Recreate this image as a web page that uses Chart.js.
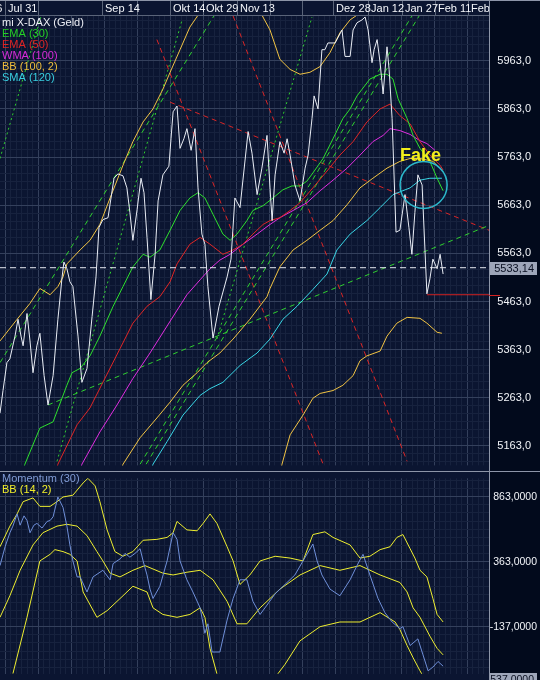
<!DOCTYPE html>
<html>
<head>
<meta charset="utf-8">
<script src="https://cdn.jsdelivr.net/npm/chart.js@4.4.0/dist/chart.umd.min.js"></script>
<style>
  html, body { margin: 0; padding: 0; background: #020a1c; }
  #wrap { position: relative; width: 540px; height: 680px; overflow: hidden; }
  #wrap canvas { position: absolute; left: 0; }
</style>
</head>
<body>
<div id="wrap">
  <canvas id="mainChart" width="540" height="472" style="top:0"></canvas>
  <canvas id="momChart" width="540" height="208" style="top:472px"></canvas>
</div>
<script>
// time axis in trading days
const xMax = 163;
const headerDays = [1.67, 12.67, 34, 45.67, 56.67, 67.67, 79, 90, 100.67, 111, 122.67, 134, 145, 156];
const headerLabels = [[-10, "Jul 16"], [1.67, "Jul 31"], [34, "Sep 14"], [56.67, "Okt 14"], [67.67, "Okt 29"],
  [79, "Nov 13"], [111, "Dez 28"], [122.67, "Jan 12"], [134, "Jan 27"], [145, "Feb 11"], [156, "Feb 26"]];

const lastPrice = 5533.14;
const supportLevel = 5477;

// mi X-DAX (Geld)
const price = [[0,5231],[1,5278],[2.3,5336],[3.3,5344],[5,5391],[6,5426],[7,5391],[7.7,5371],[9,5438],[10,5381],
  [11,5315],[12.3,5371],[13.3,5397],[14.7,5309],[16,5248],[17.7,5309],[19.3,5426],[20.7,5514],[21.3,5545],[22.3,5531],
  [23.3,5504],[24.3,5494],[26,5391],[27.3,5295],[29,5324],[30.7,5432],[32,5514],[33,5617],[34.3,5633],[36,5637],
  [37,5678],[38,5719],[39.3,5728],[41,5724],[42.3,5699],[43.3,5648],[44.3,5590],[45.7,5654],[47,5719],[48,5689],
  [49,5596],[50.3,5467],[51.7,5561],[52.7,5672],[54.3,5726],[56.3,5744],[57,5801],[57.7,5857],[59,5869],[60,5781],
  [61.3,5801],[62.3,5822],[63.7,5777],[65,5822],[66,5699],[67.3,5603],[68.3,5582],[69.3,5494],[71,5387],[73,5453],
  [75.7,5514],[77,5551],[78.3,5678],[80,5658],[82.7,5816],[84,5771],[85.7,5685],[87.3,5740],[89,5808],[90,5699],
  [90.7,5631],[91.7,5726],[93.3,5795],[94.7,5771],[95.7,5801],[96.7,5767],[98.3,5705],[100,5672],[101.7,5740],[102.7,5767],
  [104,5843],[104.7,5890],[106,5863],[107.3,5986],[108.3,5986],[109.3,6000],[111.7,6000],[114,6027],[115,5972],[116.7,5972],
  [117.7,6027],[119,6042],[120.7,6048],[121.7,6054],[122.7,6027],[124,5959],[124.7,5986],[125.7,6007],[126.7,5959],[127.7,5894],
  [129,5992],[129.7,5945],[130.7,5843],[132,5607],[133.3,5611],[135,5685],[136.3,5617],[137.3,5561],[138.3,5648],[139.3,5726],
  [140.7,5705],[142.3,5479],[143.3,5510],[144.3,5551],[145.7,5531],[146.7,5561],[147.7,5520]];

const ema30 = [[5,5060],[8.3,5125],[13.3,5200],[17.7,5213],[22.3,5289],[24,5315],[26.7,5324],[30,5350],[33.3,5391],[37.7,5453],
  [41,5494],[44.3,5535],[47.7,5561],[50,5555],[53.3,5570],[56.7,5611],[60,5652],[63.3,5678],[66,5689],[68.3,5678],
  [71,5644],[74.3,5603],[76.7,5590],[79,5603],[82.3,5631],[84.3,5652],[87.7,5662],[91,5678],[94.3,5695],[97.3,5703],
  [100,5703],[102.3,5713],[104.3,5730],[107.7,5760],[111,5801],[114.3,5843],[116.7,5863],[119,5890],[120.7,5904],[123.3,5925],
  [126.7,5935],[129,5935],[131,5925],[132.7,5884],[135.7,5843],[137.7,5808],[140,5781],[143.3,5754],[145.7,5719],[147.7,5693]];

const ema50 = [[17,5060],[19.3,5125],[25.7,5207],[30,5242],[34.3,5295],[40,5365],[44.3,5418],[49,5453],[53.3,5473],[56.7,5504],
  [59,5541],[63.3,5582],[66.7,5596],[70,5582],[74.3,5561],[77.7,5570],[81,5582],[84.3,5603],[87.7,5623],[90,5631],
  [93.3,5637],[96.7,5652],[100,5668],[104.3,5699],[109,5734],[113.3,5767],[117.7,5795],[122.3,5836],[126.7,5863],[130,5873],
  [133.3,5849],[136.7,5832],[140,5795],[143.3,5767],[146.7,5746],[147.7,5736]];

const wma100 = [[24,5060],[27.3,5125],[33.3,5192],[39,5248],[44.3,5303],[50,5356],[55.7,5412],[62.3,5477],[66.7,5508],[70,5531],
  [73.3,5549],[76.7,5561],[81,5582],[85.7,5603],[90,5623],[93.3,5637],[97.7,5652],[102.3,5668],[106.7,5693],[111,5715],
  [115.7,5740],[120,5767],[124.3,5795],[127.7,5808],[130,5822],[133.3,5818],[136.7,5810],[140,5797],[142.3,5791],[145,5777]];

const bbUpper = [[0,5381],[5.7,5426],[10,5459],[13.3,5490],[16.7,5477],[19.3,5494],[21,5514],[22.3,5541],[26.7,5570],[30,5590],
  [33.3,5623],[36.7,5678],[41,5746],[44.3,5795],[47.7,5836],[51,5863],[54.3,5904],[56.7,5939],[60,5986],[63.3,6033],
  [66.7,6064],[73.3,6099],[80,6113],[85,6089],[87.3,6058],[90,6027],[93.3,5966],[96.7,5945],[100,5935],[103.3,5939],
  [106.7,5951],[110,5980],[113.3,6021],[116.7,6048],[120,6062],[123.3,6089],[128.3,6109],[136.7,6119],[147.7,6130]];

const bbMiddle = [[38,5060],[41,5125],[46.7,5180],[52.3,5221],[56.7,5254],[61,5289],[65.7,5315],[69,5336],[73.3,5356],[77.7,5385],
  [83.3,5426],[89,5473],[90,5490],[93.3,5535],[97.7,5570],[102.3,5590],[106.7,5611],[111,5631],[115.7,5664],[120,5699],
  [124.3,5719],[129,5740],[133.3,5754],[136.7,5760],[140,5760],[144.3,5754],[147.3,5736]];

const bbLower = [[92,5060],[94,5125],[96.7,5186],[101,5227],[104.3,5262],[106.7,5272],[111,5278],[114.3,5289],[117.7,5309],[120,5340],
  [122.3,5350],[126.7,5360],[129,5391],[132.3,5418],[135.7,5430],[140,5428],[142.3,5418],[145.7,5399],[147.3,5397]];

const sma120 = [[48,5060],[51,5125],[55.7,5172],[61,5227],[66.7,5268],[70,5282],[74.3,5295],[80,5330],[85.7,5356],[90,5385],
  [94.3,5426],[99,5453],[104.3,5488],[109,5520],[112.3,5570],[116.7,5603],[122.3,5631],[126.7,5658],[131,5685],[136.7,5699],
  [140,5715],[143.3,5719],[147.3,5719]];

// drawn trend lines
const greenDotted = [[[0,5760],[13.7,6056]], [[19,5131],[60.7,6048]], [[72.3,5385],[104,6054]]];
const greenDashed = [[[0,5336],[71.3,6056]], [[16,5248],[163,5621]], [[46.7,5125],[137.3,6056]], [[48.7,5125],[139.7,6056]]];
const redDashed = [[[52.3,6007],[107.7,5125]], [[77.7,6056],[135.7,5131]], [[56.7,5877],[163,5611]]];

// Momentum (30) and BB (14, 2)
const momentum = [[0,333],[1.7,478],[3.3,586],[4.3,637],[5.7,731],[6.7,644],[8,716],[9,680],[10,586],[11.3,644],
  [12.3,658],[14,622],[15.7,673],[16.7,680],[17.7,709],[19.3,861],[21,781],[22.3,637],[23.3,492],[24.3,369],
  [25.7,246],[26.7,246],[29,130],[31,246],[34.3,297],[36.7,224],[37.7,348],[39,369],[40,384],[41.7,427],
  [43.3,398],[45,427],[46.7,463],[47.7,369],[49,261],[50,152],[51,80],[53.3,174],[55.7,369],[57.7,586],
  [59,535],[60,369],[62.3,224],[64.3,130],[66.7,8],[68.3,-188],[69.3,-115],[70.7,-332],[73.3,-332],[75.7,-86],
  [77.7,80],[80,224],[82.3,224],[84.3,58],[86.7,-43],[89,29],[91.7,116],[95,188],[98.3,261],[101,369],
  [104.3,499],[105.7,369],[107.3,261],[110,152],[113.3,101],[116.7,224],[119,333],[121,420],[123.3,261],[126,80],
  [128.3,-29],[130.7,-101],[133.3,-152],[134.3,-137],[136.7,-282],[139.3,-231],[141,-354],[142.7,-477],[144.3,-448],[146,-405],
  [147.7,-441]];

const bb14Upper = [[0,478],[3.3,637],[5.7,731],[7.7,825],[11,854],[13.3,789],[16.7,789],[19,825],[21,861],[24.3,875],
  [27.7,969],[29.3,1005],[31.7,947],[33.3,825],[35.7,608],[38.3,441],[41,405],[44.3,441],[47.7,528],[52.3,535],
  [55.7,550],[57.7,586],[59,673],[62.3,608],[65.7,601],[67.7,658],[70,731],[72.3,658],[75.7,478],[77.7,369],
  [80,188],[83.3,261],[86.7,369],[91.7,405],[96.7,391],[101,369],[104.3,572],[108.3,593],[111,550],[116.7,492],
  [120,391],[123.3,405],[126.7,456],[130,478],[132.3,550],[134.3,572],[136.7,463],[138.3,391],[140,297],[142.3,246],
  [144.3,80],[145.7,-43],[147.7,-101]];

const bb14Middle = [[0,-65],[3.3,101],[6.7,297],[11,492],[14.3,586],[19,637],[22.3,651],[25.7,637],[29,564],[32.3,441],
  [34.3,369],[36.7,275],[40,246],[44.3,297],[48.3,333],[54.3,275],[57.7,261],[62.3,282],[66.7,297],[71,224],
  [75.7,58],[79,-115],[82.3,-115],[86.7,8],[89,58],[93.3,152],[100,261],[106.7,333],[113.3,297],[120,333],
  [126.7,261],[133.3,203],[135.7,130],[137.7,8],[140,-65],[143.3,-210],[145.7,-304],[147.7,-354]];

const bb14Lower = [[4.3,-499],[9,-65],[13.3,369],[16.7,420],[18.3,456],[21,441],[23.3,420],[25.7,369],[27.7,130],[32.3,-65],
  [35.7,-14],[41,101],[44.3,174],[49,130],[51,8],[54.3,-43],[59,-65],[63.3,-43],[66.7,8],[68.3,-65],
  [70,-304],[72.3,-499],[76.7,-643],[86.7,-680],[95,-427],[100,-246],[106.7,-137],[113.3,-101],[120,-101],[126.7,-29],
  [131.7,-101],[133.3,-159],[135.7,-282],[137.7,-376],[140,-477],[143.3,-607],[147.7,-715]];

const FONT = "Liberation Sans, Arial, sans-serif";
Chart.defaults.font.family = FONT;
Chart.defaults.font.size = 11;

const PLOT_BG = "#0b1531";
const OUTER_BG = "#020a1c";
const GRID_MAJOR = "#34405c";
const GRID_MINOR = "#17223e";
const FRAME = "#8d95a8";

function series(data, color, dash) {
  return {
    data: data.map(p => ({ x: p[0], y: p[1] })),
    borderColor: color,
    borderWidth: 1,
    borderDash: dash || [],
    pointRadius: 0,
    tension: 0,
    fill: false
  };
}

function isMajor(value, base, step) {
  const r = (value - base) / step;
  return Math.abs(r - Math.round(r)) < 1e-6;
}

function xScaleOptions(position, height) {
  return {
    type: "linear",
    position: position,
    min: 0,
    max: xMax,
    afterFit: s => { s.height = height; },
    afterBuildTicks: s => {
      const t = [];
      for (let i = 0; ; i++) {
        const v = 1.667 + i * 11 / 6;
        if (v > xMax) break;
        t.push({ value: v });
      }
      s.ticks = t;
    },
    ticks: { display: false, autoSkip: false },
    grid: {
      drawTicks: false,
      lineWidth: 1,
      color: c => (c.index % 6 === 0 ? GRID_MAJOR : GRID_MINOR)
    },
    border: { display: false }
  };
}

function yScaleOptions(min, max, base, step, minorPerMajor, width, fontSize, fmt) {
  return {
    position: "right",
    min: min,
    max: max,
    afterFit: s => { s.width = width; },
    afterBuildTicks: s => {
      const t = [];
      const minor = step / minorPerMajor;
      const k0 = Math.ceil((min - base) / minor);
      for (let k = k0; base + k * minor <= max; k++) t.push({ value: base + k * minor });
      s.ticks = t;
    },
    ticks: {
      autoSkip: false,
      color: "#f2f4f8",
      crossAlign: "far",
      padding: 0,
      font: { size: fontSize },
      callback: v => (isMajor(v, base, step) ? fmt(v) : "")
    },
    grid: {
      drawTicks: false,
      color: c => (isMajor(c.tick.value, base, step) ? GRID_MAJOR : GRID_MINOR)
    },
    border: { display: false }
  };
}

function paintBackground(chart) {
  const { ctx, chartArea: a } = chart;
  ctx.save();
  ctx.fillStyle = OUTER_BG;
  ctx.fillRect(0, 0, chart.width, chart.height);
  ctx.fillStyle = PLOT_BG;
  ctx.fillRect(0, 0, a.right, chart.height);
  ctx.restore();
}

function valueBox(ctx, yPix, text, size) {
  ctx.fillStyle = "#9ea6b9";
  ctx.fillRect(490, Math.round(yPix) - 6, 47, 13);
  ctx.fillStyle = "#0a1022";
  ctx.font = size + "px " + FONT;
  ctx.textAlign = "right";
  ctx.textBaseline = "middle";
  ctx.fillText(text, 534, Math.round(yPix) + 1);
}

const mainDecor = {
  id: "mainDecor",
  beforeDraw: paintBackground,
  afterDraw(chart) {
    const { ctx, chartArea: a, scales } = chart;
    const xs = scales.x, ys = scales.y;
    ctx.save();
    // header strip
    ctx.beginPath();
    ctx.rect(0, 0, a.right, a.top);
    ctx.clip();
    ctx.strokeStyle = "#5a6479";
    ctx.lineWidth = 1;
    headerDays.forEach(d => {
      const px = Math.round(xs.getPixelForValue(d)) + 0.5;
      ctx.beginPath(); ctx.moveTo(px, 0); ctx.lineTo(px, a.top); ctx.stroke();
    });
    ctx.fillStyle = "#f4f6fa";
    ctx.font = "11px " + FONT;
    ctx.textAlign = "left";
    ctx.textBaseline = "middle";
    headerLabels.forEach(([d, t]) => ctx.fillText(t, xs.getPixelForValue(d) + 3, 8.5));
    ctx.restore();

    ctx.save();
    ctx.strokeStyle = "#5a6479";
    ctx.beginPath(); ctx.moveTo(0, a.top - 0.5); ctx.lineTo(a.right, a.top - 0.5); ctx.stroke();
    ctx.strokeStyle = FRAME;
    ctx.beginPath(); ctx.moveTo(0, 0.5); ctx.lineTo(chart.width, 0.5); ctx.stroke();
    ctx.beginPath(); ctx.moveTo(a.right + 0.5, 0); ctx.lineTo(a.right + 0.5, chart.height); ctx.stroke();
    ctx.beginPath(); ctx.moveTo(0, chart.height - 0.5); ctx.lineTo(chart.width, chart.height - 0.5); ctx.stroke();

    // support line runs a little into the axis strip
    const sy = Math.round(ys.getPixelForValue(supportLevel)) + 0.5;
    ctx.strokeStyle = "#d42020";
    ctx.beginPath(); ctx.moveTo(a.right, sy); ctx.lineTo(a.right + 11, sy); ctx.stroke();

    // legend
    const legend = [["mi X-DAX (Geld)", "#eef0f6"], ["EMA (30)", "#25d025"], ["EMA (50)", "#e02424"],
      ["WMA (100)", "#d82ad8"], ["BB (100, 2)", "#efbe3c"], ["SMA (120)", "#38cfe0"]];
    ctx.font = "11px " + FONT;
    ctx.textAlign = "left";
    ctx.textBaseline = "middle";
    legend.forEach(([t, c], i) => { ctx.fillStyle = c; ctx.fillText(t, 2, 22.5 + i * 11); });

    // annotation
    const cx = xs.getPixelForValue(141.2), cy = ys.getPixelForValue(5705);
    ctx.strokeStyle = "#2bb9cc";
    ctx.lineWidth = 1.5;
    ctx.beginPath(); ctx.arc(cx, cy, 23.5, 0, Math.PI * 2); ctx.stroke();
    ctx.fillStyle = "#f2ee1a";
    ctx.font = "bold 18px " + FONT;
    ctx.textBaseline = "alphabetic";
    ctx.fillText("Fake", 400, 161);

    valueBox(ctx, ys.getPixelForValue(lastPrice) + 0.5, lastPrice.toFixed(2).replace(".", ","), 11);
    ctx.restore();
  }
};

const momDecor = {
  id: "momDecor",
  beforeDraw: paintBackground,
  afterDraw(chart) {
    const { ctx, chartArea: a, scales } = chart;
    ctx.save();
    ctx.strokeStyle = FRAME;
    ctx.lineWidth = 1;
    ctx.beginPath(); ctx.moveTo(a.right + 0.5, 0); ctx.lineTo(a.right + 0.5, chart.height); ctx.stroke();
    ctx.font = "11px " + FONT;
    ctx.textAlign = "left";
    ctx.textBaseline = "middle";
    ctx.fillStyle = "#7f9ad4"; ctx.fillText("Momentum (30)", 2, 6.5);
    ctx.fillStyle = "#f0ee2a"; ctx.fillText("BB (14, 2)", 2, 17.5);
    // value box of the lower band sits just below the visible range
    valueBox(ctx, scales.y.getPixelForValue(-537), "-537,0000", 10.5);
    ctx.restore();
  }
};

const mainDatasets = [
  series(price, "#e9edf5"),
  series([[0, lastPrice], [xMax, lastPrice]], "#e6e9f0", [6, 4]),
  series([[142.3, supportLevel], [xMax, supportLevel]], "#d42020"),
  series(ema30, "#2ee02e"),
  series(ema50, "#e02626"),
  series(wma100, "#e02ee0"),
  series(bbUpper, "#f2c444"),
  series(bbMiddle, "#f2c444"),
  series(bbLower, "#f2c444"),
  series(sma120, "#3ad6e6"),
  ...greenDotted.map(l => series(l, "#2fd02f", [2, 3])),
  ...greenDashed.map(l => series(l, "#2fd02f", [5, 4])),
  ...redDashed.map(l => series(l, "#dc2626", [5, 4]))
];

new Chart(document.getElementById("mainChart"), {
  type: "line",
  data: { datasets: mainDatasets },
  options: {
    responsive: false,
    animation: false,
    events: [],
    layout: { padding: { right: 9, bottom: 1 } },
    plugins: { legend: { display: false }, tooltip: { enabled: false } },
    scales: {
      x: xScaleOptions("top", 16),
      y: yScaleOptions(5122.5, 6056, 5163, 100, 6, 42, 11, v => v.toFixed(1).replace(".", ","))
    }
  },
  plugins: [mainDecor]
});

new Chart(document.getElementById("momChart"), {
  type: "line",
  data: {
    datasets: [
      series(momentum, "#6f8fd8"),
      series(bb14Upper, "#eeee30"),
      series(bb14Middle, "#eeee30"),
      series(bb14Lower, "#eeee30")
    ]
  },
  options: {
    responsive: false,
    animation: false,
    events: [],
    layout: { padding: { right: 3 } },
    plugins: { legend: { display: false }, tooltip: { enabled: false } },
    scales: {
      x: xScaleOptions("bottom", 0),
      y: yScaleOptions(-499, 1005, 863, 500, 8, 48, 10.5, v => v.toFixed(4).replace(".", ","))
    }
  },
  plugins: [momDecor]
});
</script>
</body>
</html>
